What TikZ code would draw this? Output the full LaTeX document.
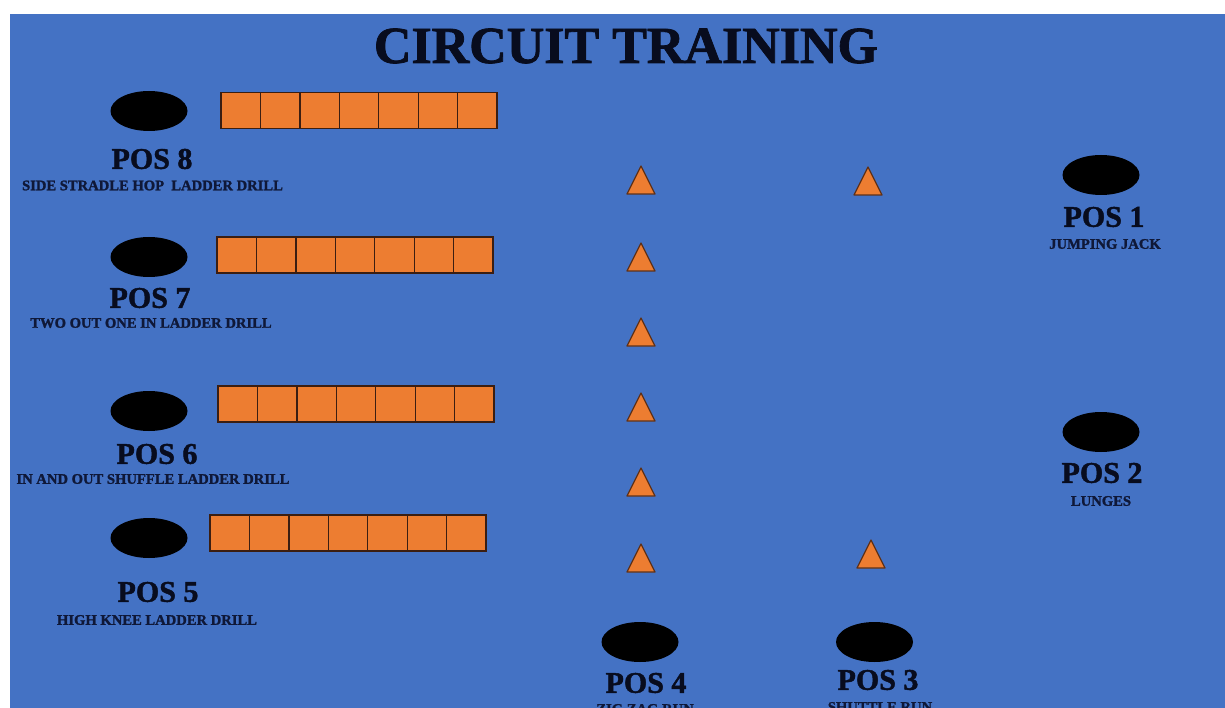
\documentclass[tikz,border=0pt]{standalone}
\usepackage{fontspec}
\setmainfont{Liberation Serif}[BoldFeatures={FakeBold=1.5}]
\usetikzlibrary{shapes.geometric}
\definecolor{bgblue}{HTML}{4472C4}
\definecolor{ladderorange}{HTML}{ED7D31}
\definecolor{edgebrown}{HTML}{3B1E12}
\definecolor{inkdark}{HTML}{080C1E}
\definecolor{inknavy}{HTML}{0F1838}
\begin{document}
\begin{tikzpicture}[x=1pt,y=-1pt,
  station/.style={ellipse, fill=black, minimum width=77pt, minimum height=40pt, inner sep=0pt},
  titletext/.style={font=\fontsize{52}{52}\selectfont\bfseries, text=inkdark, inner sep=0pt},
  poslabel/.style={font=\fontsize{30}{30}\selectfont\bfseries, text=inkdark, inner sep=0pt},
  drill/.style={font=\fontsize{14.6}{15}\selectfont\bfseries, text=inknavy, inner sep=0pt},
  rung/.style={fill=ladderorange, draw=edgebrown, line width=1.3pt},
  cone/.pic={\draw[fill=ladderorange, draw=edgebrown!80!ladderorange, line width=1.2pt, line join=round] (-14,0) -- (14,0) -- (0,-28) -- cycle;},
  ladder/.pic={\foreach \i in {0,...,6} \draw[rung] (\i*39.43,0) rectangle ++(39.43,36);}
]
\useasboundingbox (0,0) rectangle (1225,708);
\clip (0,0) rectangle (1225,708);
\fill[white] (0,0) rectangle (1225,708);
\fill[bgblue] (10,14) rectangle (1225,708);

\node[titletext] (title) at (626,46) {CIRCUIT TRAINING};

% ladders
\pic at (221,92.5) {ladder};
\pic at (217,237) {ladder};
\pic at (218,386) {ladder};
\pic at (210,515) {ladder};

% cones
\foreach \yy in {194,271,346,421,496,572} \pic at (641,\yy) {cone};
\pic at (868,195) {cone};
\pic at (871,568) {cone};

% stations
\node[station] (s8) at (149,111) {};
\node[poslabel] (p8) at (152,159) {POS 8};
\node[drill] (d8) at (152.5,185.5) {SIDE STRADLE HOP\ \ LADDER DRILL};

\node[station] (s7) at (149,257) {};
\node[poslabel] (p7) at (150,298) {POS 7};
\node[drill] (d7) at (151,323) {TWO OUT ONE IN LADDER DRILL};

\node[station] (s6) at (149,411) {};
\node[poslabel] (p6) at (157,454) {POS 6};
\node[drill] (d6) at (153,479) {IN AND OUT SHUFFLE LADDER DRILL};

\node[station] (s5) at (149,538) {};
\node[poslabel] (p5) at (158,592) {POS 5};
\node[drill] (d5) at (157,620) {HIGH KNEE LADDER DRILL};

\node[station] (s1) at (1101,175) {};
\node[poslabel] (p1) at (1104,217) {POS 1};
\node[drill] (d1) at (1105,244) {JUMPING JACK};

\node[station] (s2) at (1101,432) {};
\node[poslabel] (p2) at (1102,473) {POS 2};
\node[drill] (d2) at (1101,501) {LUNGES};

\node[station] (s4) at (640,642) {};
\node[poslabel] (p4) at (646,683) {POS 4};
\node[drill] (d4) at (645,709) {ZIG ZAG RUN};

\node[station] (s3) at (874.5,642) {};
\node[poslabel] (p3) at (878,680) {POS 3};
\node[drill] (d3) at (880,707) {SHUTTLE RUN};
\end{tikzpicture}
\end{document}
